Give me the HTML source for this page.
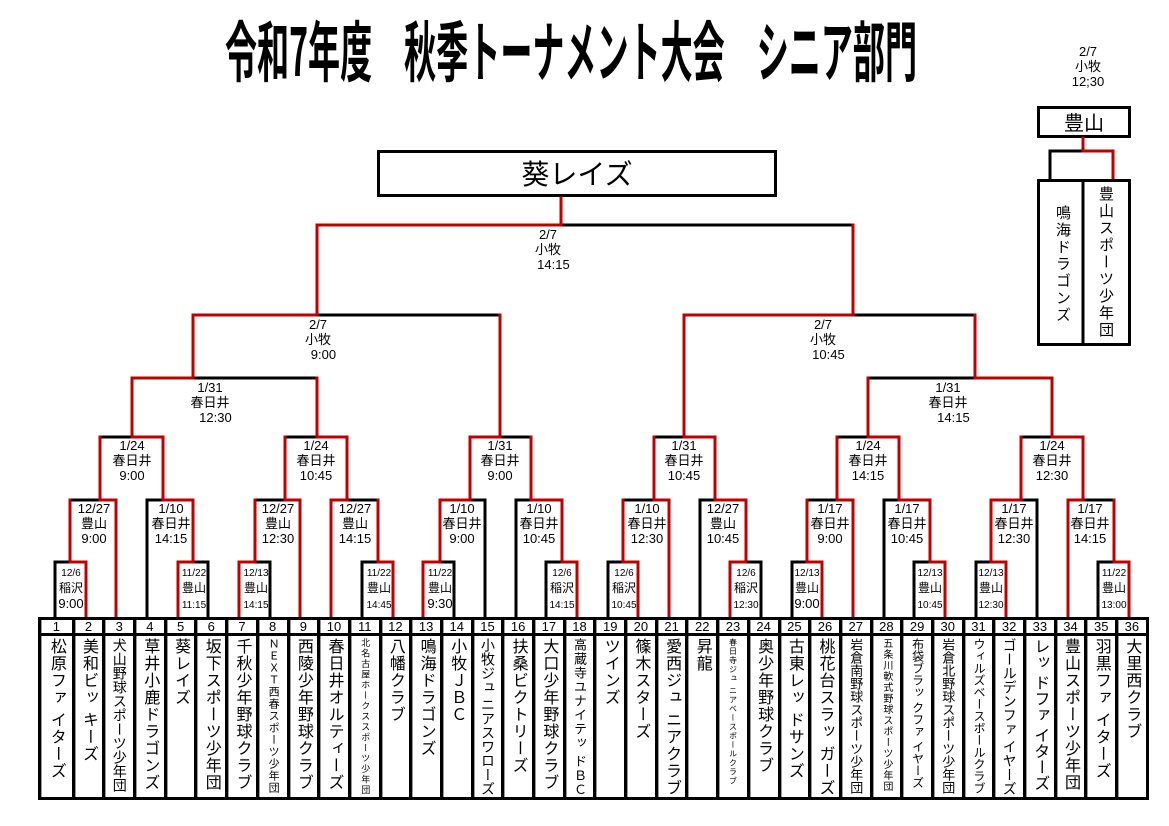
<!DOCTYPE html>
<html><head><meta charset="utf-8">
<style>
*{box-sizing:border-box}
body{margin:0;width:1169px;height:826px;background:#fff;position:relative;overflow:hidden;font-family:"Liberation Sans","Noto Sans CJK JP",sans-serif;color:#000}
.lb{position:absolute;transform:translateX(-50%);text-align:center;white-space:nowrap;font-size:13px;line-height:15px}
.s{font-size:10px;line-height:12px}
.m{font-size:12px;line-height:15px}
.tb{position:absolute;left:38px;top:617px;width:1111px;height:183px;border:3px solid #000;display:flex;overflow:hidden}
.col{flex:none;width:30.69px;border-left:3px solid #000;display:flex;flex-direction:column;box-shadow:inset 1px 0 0 #999;overflow:hidden}
.col:first-child{border-left:none}
.num{height:16px;border-bottom:3px solid #000;text-align:center;font-size:13px;line-height:14px}
.nm{writing-mode:vertical-rl;font-size:16px;line-height:27px;letter-spacing:1px;margin:2px auto 0;white-space:pre}
</style></head><body>
<svg width="1169" height="826" style="position:absolute;left:0;top:0">
<text x="225" y="76" font-family="Noto Sans CJK JP,sans-serif" font-weight="bold" font-size="66" textLength="692" lengthAdjust="spacingAndGlyphs">令和7年度　秋季トーナメント大会　シニア部門</text>
<rect x="378.5" y="151.5" width="397" height="44" fill="#fff" stroke="#000" stroke-width="3"/>
<text x="577" y="184" text-anchor="middle" font-size="28" font-family="Noto Sans CJK JP,sans-serif">葵レイズ</text>
<g fill="none" stroke-width="3" stroke-linecap="square">
<path stroke="#000" d="M55 618V562 M147 618V500 M208 618V562 M270 618V562 M362 618V562 M454 618V562 M485 618V500 M516 618V500 M546 618V562 M608 618V562 M700 618V500 M761 618V562 M792 618V562 M884 618V500 M914 618V562 M976 618V562 M1037 618V500 M1098 618V562
M55 562H70 M70 500H100 M193 562H208 M147 500H163 M100 437H132 M255 562H270 M255 500H285 M362 562H378 M347 500H378 M285 437H317 M193 378H317 M440 562H454 M470 500H485 M546 562H562 M516 500H531 M500 437H531 M317 315H500 M561 225H853
M608 562H623 M623 500H654 M746 562H761 M700 500H715 M654 437H684 M792 562H807 M807 500H837 M914 562H930 M884 500H899 M837 437H868 M976 562H991 M1021 500H1037 M1098 562H1114 M1083 500H1114 M1021 437H1052 M868 378H975 M853 315H975"/>
<path stroke="#c00000" d="M86 618V562 M116 618V500 M178 618V562 M239 618V562 M300 618V500 M331 618V500 M393 618V562 M423 618V562 M577 618V562 M638 618V562 M669 618V500 M730 618V562 M822 618V562 M853 618V500 M945 618V562 M1006 618V562 M1068 618V500 M1129 618V562
M70 562H86 M100 500H116 M178 562H193 M163 500H193 M132 437H163 M239 562H255 M285 500H300 M378 562H393 M331 500H347 M317 437H347 M132 378H193 M423 562H440 M440 500H470 M562 562H577 M531 500H562 M470 437H500 M193 315H317 M317 225H561
M623 562H638 M654 500H669 M730 562H746 M715 500H746 M684 437H715 M807 562H822 M837 500H853 M930 562H945 M899 500H930 M868 437H899 M991 562H1006 M991 500H1021 M1114 562H1129 M1068 500H1083 M1052 437H1083 M975 378H1052 M684 315H853
M70 562V500 M100 500V437 M193 562V500 M163 500V437 M132 437V378 M255 562V500 M285 500V437 M378 562V500 M347 500V437 M317 437V378 M193 378V315 M440 562V500 M470 500V437 M562 562V500 M531 500V437 M500 437V315 M317 315V225 M561 225V198
M623 562V500 M654 500V437 M746 562V500 M715 500V437 M684 437V315 M807 562V500 M837 500V437 M930 562V500 M899 500V437 M868 437V378 M991 562V500 M1021 500V437 M1114 562V500 M1083 500V437 M1052 437V378 M975 378V315 M853 315V225"/>
</g>
<rect x="1038.5" y="107.5" width="91" height="29" fill="#fff" stroke="#000" stroke-width="3"/>
<text x="1084" y="130" text-anchor="middle" font-size="20" font-family="Noto Sans CJK JP,sans-serif">豊山</text>
<g fill="none" stroke-width="3" stroke-linecap="square">
<path stroke="#000" d="M1050 180V151H1083"/>
<path stroke="#c00000" d="M1083 138V151H1113V180"/>
</g>
<rect x="1038.5" y="180.5" width="91" height="164" fill="none" stroke="#000" stroke-width="3"/>
<line x1="1083" y1="180" x2="1083" y2="345" stroke="#000" stroke-width="3"/>
</svg>
<div class="lb" style="left:1088px;top:44px">2/7<br>小牧<br>12;30</div>
<div style="position:absolute;left:1048px;top:205px;writing-mode:vertical-rl;font-size:15px;line-height:28px;letter-spacing:2px">鳴海ドラゴンズ</div>
<div style="position:absolute;left:1091px;top:186px;writing-mode:vertical-rl;font-size:15px;line-height:28px;letter-spacing:2px">豊山スポーツ少年団</div>

<div class="lb" style="left:71px;top:564px"><span class="s">12/6</span><br><span class="m">稲沢</span><br>9:00</div>
<div class="lb" style="left:194px;top:564px"><span class="s">11/22</span><br><span class="m">豊山</span><br><span class="s">11:15</span></div>
<div class="lb" style="left:256px;top:564px"><span class="s">12/13</span><br><span class="m">豊山</span><br><span class="s">14:15</span></div>
<div class="lb" style="left:379px;top:564px"><span class="s">11/22</span><br><span class="m">豊山</span><br><span class="s">14:45</span></div>
<div class="lb" style="left:440px;top:564px"><span class="s">11/22</span><br><span class="m">豊山</span><br>9:30</div>
<div class="lb" style="left:562px;top:564px"><span class="s">12/6</span><br><span class="m">稲沢</span><br><span class="s">14:15</span></div>
<div class="lb" style="left:624px;top:564px"><span class="s">12/6</span><br><span class="m">稲沢</span><br><span class="s">10:45</span></div>
<div class="lb" style="left:746px;top:564px"><span class="s">12/6</span><br><span class="m">稲沢</span><br><span class="s">12:30</span></div>
<div class="lb" style="left:807px;top:564px"><span class="s">12/13</span><br><span class="m">豊山</span><br>9:00</div>
<div class="lb" style="left:930px;top:564px"><span class="s">12/13</span><br><span class="m">豊山</span><br><span class="s">10:45</span></div>
<div class="lb" style="left:991px;top:564px"><span class="s">12/13</span><br><span class="m">豊山</span><br><span class="s">12:30</span></div>
<div class="lb" style="left:1114px;top:564px"><span class="s">11/22</span><br><span class="m">豊山</span><br><span class="s">13:00</span></div>

<div class="lb" style="left:94px;top:501px">12/27<br>豊山<br>9:00</div>
<div class="lb" style="left:171px;top:501px">1/10<br>春日井<br>14:15</div>
<div class="lb" style="left:278px;top:501px">12/27<br>豊山<br>12:30</div>
<div class="lb" style="left:355px;top:501px">12/27<br>豊山<br>14:15</div>
<div class="lb" style="left:462px;top:501px">1/10<br>春日井<br>9:00</div>
<div class="lb" style="left:539px;top:501px">1/10<br>春日井<br>10:45</div>
<div class="lb" style="left:647px;top:501px">1/10<br>春日井<br>12:30</div>
<div class="lb" style="left:723px;top:501px">12/27<br>豊山<br>10:45</div>
<div class="lb" style="left:830px;top:501px">1/17<br>春日井<br>9:00</div>
<div class="lb" style="left:907px;top:501px">1/17<br>春日井<br>10:45</div>
<div class="lb" style="left:1014px;top:501px">1/17<br>春日井<br>12:30</div>
<div class="lb" style="left:1090px;top:501px">1/17<br>春日井<br>14:15</div>

<div class="lb" style="left:132px;top:438px">1/24<br>春日井<br>9:00</div>
<div class="lb" style="left:316px;top:438px">1/24<br>春日井<br>10:45</div>
<div class="lb" style="left:500px;top:438px">1/31<br>春日井<br>9:00</div>
<div class="lb" style="left:684px;top:438px">1/31<br>春日井<br>10:45</div>
<div class="lb" style="left:868px;top:438px">1/24<br>春日井<br>14:15</div>
<div class="lb" style="left:1052px;top:438px">1/24<br>春日井<br>12:30</div>

<div class="lb" style="left:210px;top:380px">1/31<br>春日井<br>&nbsp;&nbsp;&nbsp;12:30</div>
<div class="lb" style="left:948px;top:380px">1/31<br>春日井<br>&nbsp;&nbsp;&nbsp;14:15</div>

<div class="lb" style="left:318px;top:317px">2/7<br>小牧<br>&nbsp;&nbsp;&nbsp;9:00</div>
<div class="lb" style="left:823px;top:317px">2/7<br>小牧<br>&nbsp;&nbsp;&nbsp;10:45</div>
<div class="lb" style="left:548px;top:227px">2/7<br>小牧<br>&nbsp;&nbsp;&nbsp;14:15</div>

<div class="tb">
<div class="col"><div class="num">1</div><div class="nm">松原ファ イターズ</div></div>
<div class="col"><div class="num">2</div><div class="nm">美和ビッ キーズ</div></div>
<div class="col"><div class="num">3</div><div class="nm" style="font-size:14px;letter-spacing:0">犬山野球スポーツ少年団</div></div>
<div class="col"><div class="num">4</div><div class="nm">草井小鹿ドラゴンズ</div></div>
<div class="col"><div class="num">5</div><div class="nm">葵レイズ</div></div>
<div class="col"><div class="num">6</div><div class="nm">坂下スポーツ少年団</div></div>
<div class="col"><div class="num">7</div><div class="nm">千秋少年野球クラブ</div></div>
<div class="col"><div class="num">8</div><div class="nm" style="font-size:11px;letter-spacing:1px">ＮＥＸＴ西春スポーツ少年団</div></div>
<div class="col"><div class="num">9</div><div class="nm">西陵少年野球クラブ</div></div>
<div class="col"><div class="num">10</div><div class="nm">春日井オルティーズ</div></div>
<div class="col"><div class="num">11</div><div class="nm" style="font-size:9px;letter-spacing:1.5px">北名古屋ホークススポーツ少年団</div></div>
<div class="col"><div class="num">12</div><div class="nm">八幡クラブ</div></div>
<div class="col"><div class="num">13</div><div class="nm">鳴海ドラゴンズ</div></div>
<div class="col"><div class="num">14</div><div class="nm">小牧ＪＢＣ</div></div>
<div class="col"><div class="num">15</div><div class="nm" style="font-size:14px;letter-spacing:0">小牧ジュ ニアスワローズ</div></div>
<div class="col"><div class="num">16</div><div class="nm">扶桑ビクトリーズ</div></div>
<div class="col"><div class="num">17</div><div class="nm">大口少年野球クラブ</div></div>
<div class="col"><div class="num">18</div><div class="nm" style="font-size:13px;letter-spacing:1px">高蔵寺ユナイテッ ドＢＣ</div></div>
<div class="col"><div class="num">19</div><div class="nm">ツインズ</div></div>
<div class="col"><div class="num">20</div><div class="nm">篠木スターズ</div></div>
<div class="col"><div class="num">21</div><div class="nm">愛西ジュ ニアクラブ</div></div>
<div class="col"><div class="num">22</div><div class="nm">昇龍</div></div>
<div class="col"><div class="num">23</div><div class="nm" style="font-size:8px;letter-spacing:1px">春日寺ジュ ニアベースボールクラブ</div></div>
<div class="col"><div class="num">24</div><div class="nm">奥少年野球クラブ</div></div>
<div class="col"><div class="num">25</div><div class="nm">古東レッ ドサンズ</div></div>
<div class="col"><div class="num">26</div><div class="nm">桃花台スラッ ガーズ</div></div>
<div class="col"><div class="num">27</div><div class="nm" style="font-size:13px;letter-spacing:0">岩倉南野球スポーツ少年団</div></div>
<div class="col"><div class="num">28</div><div class="nm" style="font-size:10px;letter-spacing:1px">五条川軟式野球スポーツ少年団</div></div>
<div class="col"><div class="num">29</div><div class="nm" style="font-size:12px;letter-spacing:0">布袋ブラッ クファ イヤーズ</div></div>
<div class="col"><div class="num">30</div><div class="nm" style="font-size:13px;letter-spacing:0">岩倉北野球スポーツ少年団</div></div>
<div class="col"><div class="num">31</div><div class="nm" style="font-size:12px;letter-spacing:0">ウィルズベースボールクラブ</div></div>
<div class="col"><div class="num">32</div><div class="nm" style="font-size:14px;letter-spacing:0">ゴールデンファ イヤーズ</div></div>
<div class="col"><div class="num">33</div><div class="nm" style="letter-spacing:0">レッ ドファ イターズ</div></div>
<div class="col"><div class="num">34</div><div class="nm">豊山スポーツ少年団</div></div>
<div class="col"><div class="num">35</div><div class="nm">羽黒ファ イターズ</div></div>
<div class="col"><div class="num">36</div><div class="nm">大里西クラブ</div></div>
</div>
</body></html>
